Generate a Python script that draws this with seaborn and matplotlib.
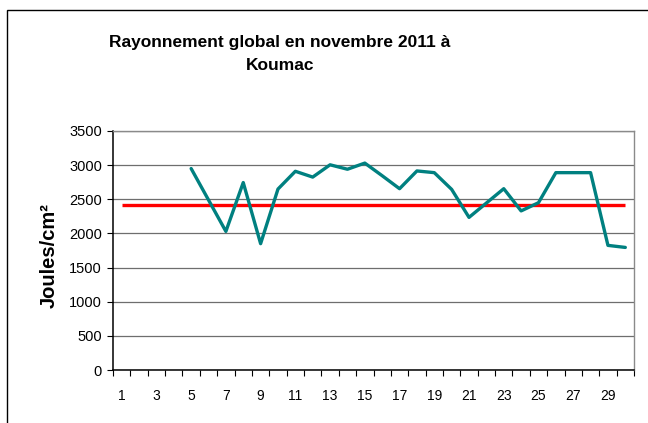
import numpy as np
import pandas as pd
import matplotlib
matplotlib.use("Agg")
import matplotlib.pyplot as plt
from matplotlib.patches import Rectangle
from matplotlib.ticker import MultipleLocator, FixedLocator
import seaborn as sns

# données : rayonnement global journalier, novembre 2011, Koumac
jours = list(range(1, 31))
rayonnement = [np.nan, np.nan, np.nan, np.nan,
               2950, 2490, 2030, 2745, 1850, 2650,
               2910, 2825, 3005, 2940, 3030, 2845,
               2655, 2915, 2890, 2645, 2235, 2445,
               2655, 2330, 2450, 2890, 2890, 2890,
               1825, 1795]
reference = 2410
titre = "Rayonnement global en novembre 2011 à\nKoumac"

sns.set_theme(style="white")
plt.rcParams['font.family'] = ['Liberation Sans', 'DejaVu Sans']
plt.rcParams['text.color'] = 'black'

df = pd.DataFrame({'jour': jours, 'joules': rayonnement})

fig = plt.figure(figsize=(6.48, 4.23), dpi=100)
ax = fig.add_axes([113 / 648, 1 - 370 / 423, (634 - 113) / 648, (370 - 131) / 423])

ax.hlines(reference, jours[0], jours[-1], color='#ff0000', linewidth=2.4, zorder=3)
sns.lineplot(data=df, x='jour', y='joules', color='#008080', linewidth=2.4, ax=ax, zorder=4)

ax.set_xlim(0.5, 30.5)
ax.set_ylim(0, 3500)
ax.yaxis.set_major_locator(MultipleLocator(500))
ax.xaxis.set_major_locator(FixedLocator(jours[::2]))
ax.xaxis.set_minor_locator(FixedLocator([j - 0.5 for j in jours] + [30.5]))
ax.tick_params(axis='x', which='major', length=0, pad=14, labelsize=10, colors='black')
ax.tick_params(axis='x', which='minor', length=4, width=0.8, direction='out', bottom=True, color='black')
ax.tick_params(axis='y', which='major', length=4, width=0.8, direction='out', left=True,
               pad=4, labelsize=10.5, colors='black')

ax.grid(axis='y', color='#6e6e6e', linewidth=0.9)
ax.set_axisbelow(True)
for s in ['left', 'bottom']:
    ax.spines[s].set_color('black')
    ax.spines[s].set_linewidth(1.1)
for s in ['top', 'right']:
    ax.spines[s].set_color('#8a8a8a')
    ax.spines[s].set_linewidth(1.0)

ax.set_xlabel('')
ax.set_ylabel('')
fig.text(49 / 648, 1 - 256 / 423, 'Joules/cm²', rotation=90, ha='center', va='center',
         fontsize=14.5, fontweight='bold', color='black')

fig.text(280 / 648, 1 - 54 / 423, titre, ha='center', va='center',
         fontsize=12.5, fontweight='bold', linespacing=1.6, color='black')

cadre = Rectangle((7 / 648, -0.1), 1.2, 1 - 10 / 423 + 0.1, transform=fig.transFigure,
                  fill=False, edgecolor='black', linewidth=1.0)
fig.patches.append(cadre)

fig.savefig('out.png', dpi=100)
